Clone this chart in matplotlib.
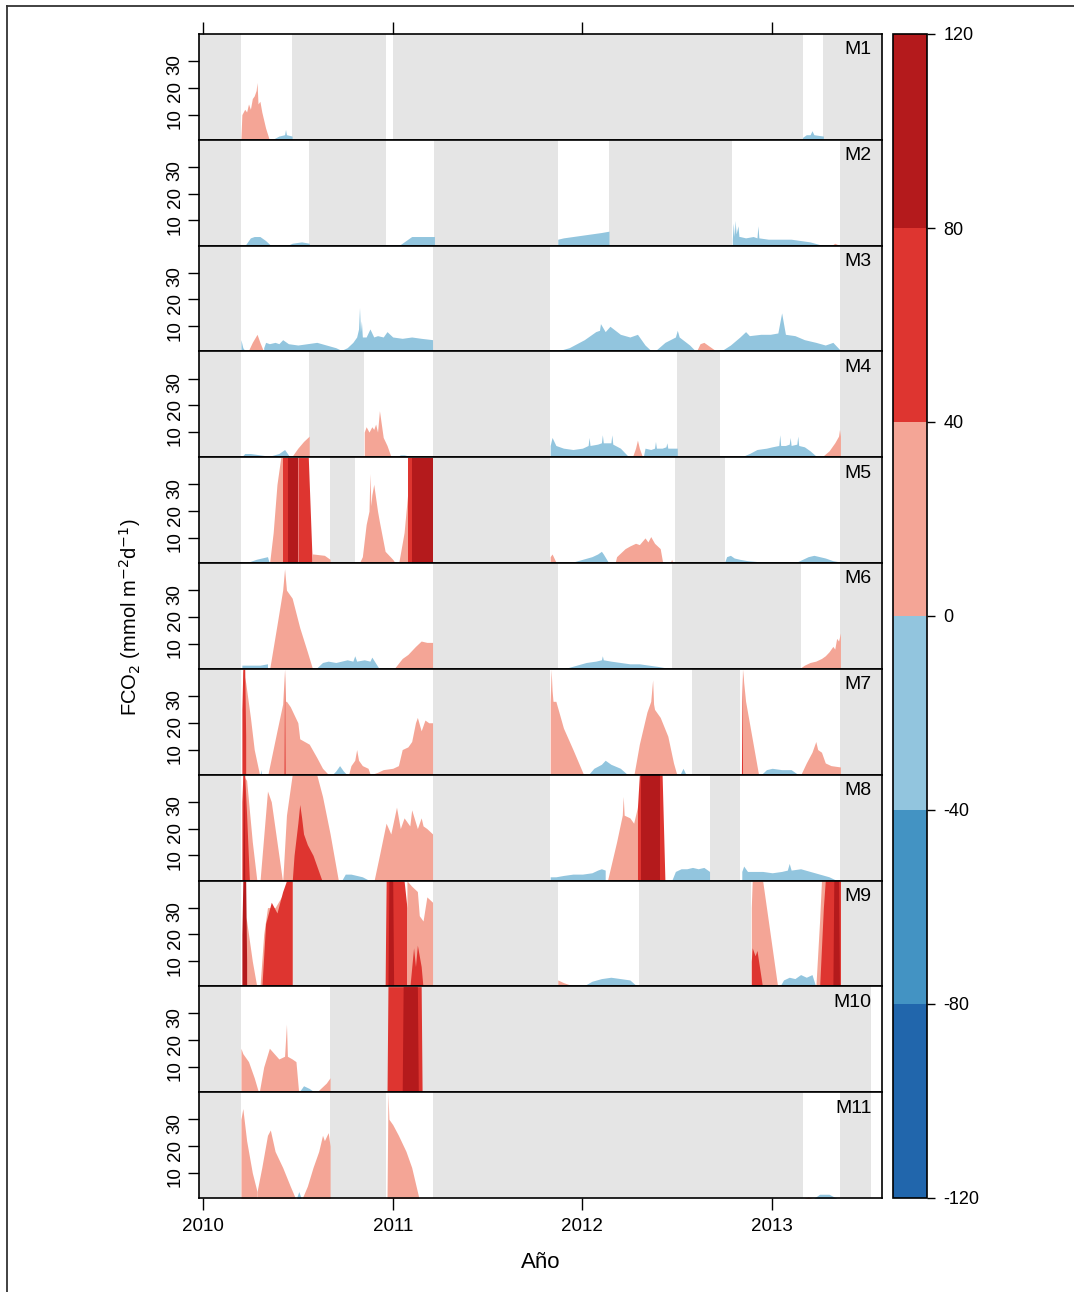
import matplotlib.pyplot as plt
from matplotlib.colors import ListedColormap, BoundaryNorm
from matplotlib.cm import ScalarMappable
from matplotlib.lines import Line2D

plt.rcParams['font.family'] = ['Liberation Sans', 'DejaVu Sans']
plt.rcParams['axes.unicode_minus'] = False

# colour classes of FCO2 (mmol m-2 d-1)
levels = [-120, -80, -40, 0, 40, 80, 120]
colours = ["#2166AC", "#4393C3", "#92C5DE", "#F4A596", "#DE3530", "#B41A1C"]
years = [2010, 2011, 2012, 2013]
yticks = [10, 20, 30]

# periods without data (grey), decimal years
M1_GAPS = [(2009.9, 2010.20), (2010.47, 2010.965), (2011.0, 2013.16), (2013.27, 2013.7)]
M2_GAPS = [(2009.9, 2010.20), (2010.56, 2010.965), (2011.22, 2011.87), (2012.14, 2012.79), (2013.36, 2013.7)]
M3_GAPS = [(2009.9, 2010.20), (2011.21, 2011.83), (2013.36, 2013.7)]
M4_GAPS = [(2009.9, 2010.20), (2010.56, 2010.85), (2011.21, 2011.83), (2012.50, 2012.725), (2013.36, 2013.7)]
M5_GAPS = [(2009.9, 2010.20), (2010.67, 2010.80), (2011.21, 2011.83), (2012.49, 2012.75), (2013.36, 2013.7)]
M6_GAPS = [(2009.9, 2010.20), (2011.21, 2011.87), (2012.47, 2013.15), (2013.36, 2013.7)]
M7_GAPS = [(2009.9, 2010.20), (2011.21, 2011.83), (2012.58, 2012.83), (2013.36, 2013.7)]
M8_GAPS = [(2009.9, 2010.20), (2011.21, 2011.83), (2012.67, 2012.83), (2013.36, 2013.7)]
M9_GAPS = [(2009.9, 2010.20), (2010.47, 2010.965), (2011.21, 2011.87), (2012.30, 2012.89), (2013.36, 2013.7)]
M10_GAPS = [(2009.9, 2010.20), (2010.67, 2013.52)]
M11_GAPS = [(2009.9, 2010.20), (2010.67, 2010.965), (2011.21, 2013.16), (2013.36, 2013.52)]

# (flux class, time, |FCO2|)
M1_AREAS = [
    (20, [2010.20, 2010.205, 2010.22, 2010.23, 2010.24, 2010.25, 2010.26, 2010.27, 2010.28, 2010.285,
          2010.29, 2010.30, 2010.31, 2010.32, 2010.33, 2010.35],
     [1, 10, 12, 11, 14, 12, 16, 17, 19, 22, 14, 15, 11, 8, 5, 0.5]),
    (-20, [2010.36, 2010.40, 2010.43, 2010.435, 2010.44, 2010.47], [0.5, 2, 2.5, 4.5, 2.5, 2]),
    (-20, [2013.16, 2013.18, 2013.20, 2013.21, 2013.22, 2013.27], [1.5, 2.5, 2.5, 4, 2.5, 2]),
]
M2_AREAS = [
    (-20, [2010.22, 2010.25, 2010.27, 2010.30, 2010.33, 2010.36], [0.5, 3.5, 4, 4, 2.5, 0.5]),
    (20, [2010.38, 2010.40, 2010.42], [0, 1, 0]),
    (-20, [2010.44, 2010.47, 2010.52, 2010.56], [0.5, 1.5, 2, 1.5]),
    (20, [2010.95, 2010.97, 2011.00], [0, 1, 0]),
    (-20, [2011.03, 2011.07, 2011.10, 2011.15, 2011.22], [0.5, 2.5, 4, 4, 4]),
    (-20, [2011.87, 2011.90, 2011.95, 2012.00, 2012.05, 2012.10, 2012.14], [3, 3.5, 4, 4.5, 5, 5.5, 6]),
    (-20, [2012.79, 2012.795, 2012.80, 2012.805, 2012.81, 2012.82, 2012.825, 2012.83, 2012.86, 2012.90,
           2012.92, 2012.925, 2012.93, 2012.98, 2013.05, 2013.10, 2013.15, 2013.20, 2013.25, 2013.30],
     [3, 9, 4, 10, 5, 8, 4, 4, 3.5, 4, 3.5, 8, 3.5, 3, 3, 3, 2.5, 2, 1, 0.3]),
    (20, [2013.30, 2013.33, 2013.36], [0, 1.5, 0.5]),
]
M3_AREAS = [
    (-20, [2010.20, 2010.21, 2010.23], [5, 2, 0]),
    (20, [2010.24, 2010.26, 2010.285, 2010.30, 2010.32], [1, 4, 7, 4, 0.5]),
    (-20, [2010.32, 2010.33, 2010.35, 2010.38, 2010.40, 2010.42, 2010.45, 2010.50, 2010.55, 2010.60,
           2010.65, 2010.70, 2010.73, 2010.76, 2010.79, 2010.81, 2010.82, 2010.825, 2010.83, 2010.835,
           2010.84, 2010.86, 2010.88, 2010.90, 2010.92, 2010.95, 2010.97, 2011.00, 2011.05, 2011.10,
           2011.15, 2011.21],
     [2, 4, 3.5, 4, 3.5, 5, 3.5, 3, 3.5, 4, 3, 2, 1, 2, 4, 6, 9, 17, 8, 12, 6, 6, 9, 6, 6.5, 6, 8, 6,
      5.5, 6, 5.5, 5]),
    (-20, [2011.83, 2011.93, 2012.01, 2012.07, 2012.09, 2012.095, 2012.12, 2012.145, 2012.20, 2012.25,
           2012.29, 2012.33, 2012.36],
     [0, 2, 5, 8, 8.5, 11, 8, 10, 7, 6, 7, 3, 1]),
    (-20, [2012.37, 2012.435, 2012.49, 2012.50, 2012.51, 2012.565, 2012.60], [0, 4, 6, 8.5, 6, 3, 0.5]),
    (20, [2012.60, 2012.62, 2012.64, 2012.66, 2012.71], [0.5, 3.5, 4, 3, 0.5]),
    (-20, [2012.725, 2012.78, 2012.83, 2012.86, 2012.88, 2012.94, 2012.99, 2013.03, 2013.05, 2013.07,
           2013.12, 2013.17, 2013.23, 2013.28, 2013.32, 2013.36],
     [0.5, 3, 6, 8, 6.5, 7, 7, 7.5, 15, 7, 6.5, 5, 4, 3, 4, 1]),
]
M4_AREAS = [
    (-20, [2010.20, 2010.22, 2010.25, 2010.30, 2010.35, 2010.40, 2010.43, 2010.44, 2010.46],
     [0.5, 2, 2, 1.5, 1, 2, 3.5, 2.5, 0.5]),
    (20, [2010.46, 2010.48, 2010.50, 2010.53, 2010.56], [0, 2, 4, 6.5, 8.5]),
    (20, [2010.85, 2010.86, 2010.875, 2010.89, 2010.90, 2010.91, 2010.92, 2010.93, 2010.95, 2010.97, 2010.99],
     [10, 12, 10, 12, 11, 13, 10, 18, 8, 5, 1]),
    (-20, [2011.02, 2011.04, 2011.06, 2011.09, 2011.11], [0.5, 1.5, 1.5, 1, 0.3]),
    (-20, [2011.83, 2011.84, 2011.86, 2011.90, 2011.95, 2012.00, 2012.03, 2012.035, 2012.04, 2012.08,
           2012.10, 2012.105, 2012.11, 2012.15, 2012.155, 2012.16, 2012.20, 2012.25],
     [5, 8, 5, 4, 3.5, 4, 5, 8, 5, 5.5, 6, 9, 6, 6, 9, 5.5, 4, 0.3]),
    (20, [2012.26, 2012.28, 2012.29, 2012.30, 2012.32], [0, 4, 7, 4, 0]),
    (-20, [2012.32, 2012.33, 2012.36, 2012.38, 2012.385, 2012.39, 2012.42, 2012.44, 2012.445, 2012.45, 2012.50],
     [0.5, 4, 3.5, 4, 6.5, 4, 4, 4.5, 6, 4, 4]),
    (20, [2012.79, 2012.80, 2012.82], [0, 1, 0]),
    (-20, [2012.83, 2012.88, 2012.92, 2012.97, 2013.00, 2013.035, 2013.04, 2013.045, 2013.07, 2013.09,
           2013.095, 2013.10, 2013.13, 2013.135, 2013.14, 2013.17, 2013.20, 2013.24],
     [0.5, 2, 3.5, 4, 4.5, 5, 9, 5, 5, 5.5, 8, 5, 5.5, 8.5, 5, 4.5, 3, 0.5]),
    (20, [2013.25, 2013.30, 2013.33, 2013.35, 2013.355, 2013.36], [0, 3, 6, 8.5, 11, 8.5]),
]
M5_AREAS = [
    (-20, [2010.21, 2010.24, 2010.28, 2010.31, 2010.34, 2010.35], [0.5, 1, 2, 2.5, 3, 0.5]),
    (20, [2010.35, 2010.37, 2010.39, 2010.41, 2010.42], [0, 12, 30, 40, 40]),
    (60, [2010.42, 2010.45], [40, 40]),
    (100, [2010.45, 2010.50], [40, 40]),
    (60, [2010.50, 2010.555, 2010.575], [40, 40, 2]),
    (20, [2010.575, 2010.58, 2010.64, 2010.67], [4, 4, 3.5, 2]),
    (20, [2010.82, 2010.84, 2010.86, 2010.875, 2010.88, 2010.885, 2010.89, 2010.90, 2010.92, 2010.93,
          2010.96, 2011.00, 2011.02],
     [0, 3, 15, 20, 34, 22, 26, 30, 20, 16, 5, 2, 0]),
    (20, [2011.03, 2011.06, 2011.09, 2011.11], [0, 12, 35, 40]),
    (60, [2011.08, 2011.10], [40, 40]),
    (100, [2011.10, 2011.21], [40, 40]),
    (20, [2011.83, 2011.84, 2011.86], [3, 4, 1]),
    (-20, [2011.90, 2011.95, 2012.00, 2012.05, 2012.08, 2012.10, 2012.11, 2012.14], [0.5, 1, 2, 3, 4, 5, 4, 0.5]),
    (20, [2012.17, 2012.18, 2012.225, 2012.25, 2012.28, 2012.30, 2012.33, 2012.345, 2012.36, 2012.38,
          2012.41, 2012.425],
     [0, 3, 6, 7, 8, 7.5, 10, 8.5, 10.5, 8, 6, 0]),
    (20, [2012.46, 2012.47, 2012.48], [0, 2, 0]),
    (-20, [2012.75, 2012.76, 2012.78, 2012.80, 2012.83, 2012.87, 2012.95, 2013.05, 2013.13],
     [1, 3, 3.5, 2.5, 2, 1.5, 1, 1, 1]),
    (-20, [2013.13, 2013.16, 2013.19, 2013.22, 2013.25, 2013.28, 2013.32, 2013.36], [1, 2, 3, 3.5, 3, 2.5, 1.5, 1]),
]
M6_AREAS = [
    (-20, [2010.205, 2010.25, 2010.30, 2010.34], [2, 2, 2, 2.5]),
    (20, [2010.35, 2010.39, 2010.42, 2010.43, 2010.44, 2010.47, 2010.51, 2010.55, 2010.58],
     [0, 17, 30, 38, 30, 27, 16, 7, 0]),
    (-20, [2010.60, 2010.63, 2010.66, 2010.70, 2010.73, 2010.76, 2010.79, 2010.80, 2010.81, 2010.85,
           2010.88, 2010.89, 2010.93],
     [1, 3, 3.5, 3, 3.5, 4, 3.5, 5.5, 3.5, 4, 3.5, 5, 0.5]),
    (20, [2011.00, 2011.05, 2011.08, 2011.12, 2011.15, 2011.18, 2011.21], [0, 4.5, 6, 9, 11, 10.5, 10.5]),
    (-20, [2011.87, 2011.92, 2011.97, 2012.02, 2012.07, 2012.10, 2012.105, 2012.11, 2012.15, 2012.20,
           2012.25, 2012.30, 2012.35, 2012.40, 2012.44, 2012.47],
     [0.3, 1, 2, 3, 3.5, 4, 5.5, 4, 3.5, 3, 2.5, 2.5, 2, 1.5, 1, 0.5]),
    (20, [2013.15, 2013.17, 2013.20, 2013.23, 2013.26, 2013.28, 2013.30, 2013.32, 2013.33, 2013.34,
          2013.35, 2013.36],
     [1, 2, 3, 3.5, 4.5, 5.5, 7, 9, 8, 12, 11, 14]),
]
M7_AREAS = [
    (20, [2010.21, 2010.225, 2010.25, 2010.27, 2010.30], [40, 35, 22, 10, 0]),
    (60, [2010.205, 2010.21, 2010.22, 2010.225], [25, 40, 40, 15]),
    (-20, [2010.30, 2010.305, 2010.31], [0, 2.5, 0]),
    (20, [2010.34, 2010.39, 2010.42, 2010.43, 2010.435, 2010.44, 2010.46, 2010.50, 2010.51, 2010.56,
          2010.60, 2010.63, 2010.67],
     [0, 17, 27, 40, 28, 28, 26, 20, 14, 12, 7, 3, 0]),
    (60, [2010.427, 2010.43, 2010.433], [0, 40, 0]),
    (-20, [2010.68, 2010.70, 2010.72, 2010.74, 2010.76], [0.5, 2, 4, 2, 0.5]),
    (20, [2010.765, 2010.78, 2010.80, 2010.81, 2010.82, 2010.84, 2010.87, 2010.88], [0, 4, 6, 10, 6, 4, 3, 1]),
    (20, [2010.88, 2010.92, 2010.95, 2011.00, 2011.03, 2011.05, 2011.08, 2011.10, 2011.12, 2011.13,
          2011.15, 2011.17, 2011.19, 2011.21],
     [0.5, 1.5, 2.5, 3, 4, 10, 11, 13, 20, 22, 17, 21, 20, 20]),
    (20, [2011.83, 2011.835, 2011.84, 2011.845, 2011.86, 2011.90, 2011.95, 2012.01], [28, 40, 32, 28, 28, 18, 10, 0]),
    (-20, [2012.03, 2012.06, 2012.10, 2012.12, 2012.15, 2012.20, 2012.24], [0.5, 3, 4.5, 6, 4.5, 3, 0.5]),
    (20, [2012.27, 2012.30, 2012.34, 2012.36, 2012.37, 2012.375, 2012.38, 2012.41, 2012.45, 2012.48, 2012.50],
     [0, 12, 24, 28, 36, 27, 25, 22, 15, 5, 0]),
    (-20, [2012.51, 2012.53, 2012.55], [0, 3, 0]),
    (20, [2012.84, 2012.845, 2012.85, 2012.86, 2012.90, 2012.93], [28, 40, 35, 28, 12, 0]),
    (60, [2012.838, 2012.841, 2012.844], [0, 40, 0]),
    (-20, [2012.94, 2012.97, 2013.00, 2013.05, 2013.10, 2013.13], [0.5, 2.5, 3, 2.5, 2.5, 1]),
    (20, [2013.15, 2013.18, 2013.21, 2013.23, 2013.24, 2013.26, 2013.28, 2013.31, 2013.36],
     [0.5, 5, 9, 13, 10, 9, 5, 4, 3.5]),
]
M8_AREAS = [
    (20, [2010.21, 2010.23, 2010.26, 2010.285], [40, 38, 15, 0]),
    (60, [2010.205, 2010.21, 2010.22, 2010.23, 2010.245], [30, 40, 40, 25, 0]),
    (100, [2010.21, 2010.215, 2010.22], [0, 40, 0]),
    (20, [2010.30, 2010.34, 2010.36, 2010.42], [0, 34, 30, 0]),
    (20, [2010.42, 2010.44, 2010.47, 2010.53, 2010.60, 2010.63, 2010.67, 2010.715], [0, 25, 40, 40, 40, 32, 18, 0]),
    (60, [2010.47, 2010.48, 2010.50, 2010.51, 2010.52, 2010.53, 2010.55, 2010.58, 2010.63],
     [0, 10, 22, 29, 24, 18, 14, 10, 0]),
    (-20, [2010.73, 2010.75, 2010.78, 2010.81, 2010.84, 2010.88], [0.5, 3, 3, 2.5, 2, 0.5]),
    (20, [2010.90, 2010.93, 2010.965, 2010.99, 2011.02, 2011.04, 2011.06, 2011.09, 2011.10, 2011.13,
          2011.15, 2011.16, 2011.18, 2011.21],
     [0, 10, 22, 18, 28, 20, 24, 21, 27, 20, 24, 21, 20, 18]),
    (-20, [2011.83, 2011.86, 2011.90, 2011.95, 2012.00, 2012.05, 2012.08, 2012.10, 2012.12],
     [2, 2, 2.5, 3, 3, 3.5, 4.5, 5, 4.5]),
    (20, [2012.13, 2012.18, 2012.21, 2012.215, 2012.22, 2012.25, 2012.27, 2012.29], [0, 15, 25, 32, 25, 24, 22, 28]),
    (60, [2012.29, 2012.30, 2012.42, 2012.435], [28, 40, 40, 0]),
    (100, [2012.31, 2012.32, 2012.40, 2012.41], [40, 40, 40, 40]),
    (-20, [2012.47, 2012.49, 2012.52, 2012.55, 2012.58, 2012.61, 2012.64, 2012.67], [0.5, 4, 5, 5, 5.5, 5, 5.5, 4]),
    (-20, [2012.84, 2012.85, 2012.87, 2012.90, 2012.95, 2013.00, 2013.05, 2013.08, 2013.09, 2013.10,
           2013.15, 2013.20, 2013.25, 2013.30, 2013.35],
     [4, 6, 4, 4, 4, 3.5, 4, 4.5, 7, 4.5, 5, 4, 3, 2, 0.3]),
]
M9_AREAS = [
    (20, [2010.21, 2010.23, 2010.26, 2010.285], [30, 25, 10, 0]),
    (100, [2010.205, 2010.21, 2010.225, 2010.23], [20, 40, 40, 10]),
    (20, [2010.30, 2010.32, 2010.34, 2010.38, 2010.43, 2010.47], [0, 20, 30, 30, 36, 40]),
    (60, [2010.31, 2010.33, 2010.36, 2010.39, 2010.42, 2010.44, 2010.47], [0, 24, 32, 28, 36, 40, 40]),
    (60, [2010.96, 2010.965, 2011.06, 2011.075], [0, 40, 40, 30]),
    (100, [2010.975, 2010.98, 2011.00, 2011.005], [0, 40, 40, 0]),
    (20, [2011.075, 2011.10, 2011.13, 2011.14, 2011.16, 2011.18, 2011.21], [40, 38, 36, 27, 25, 34, 32]),
    (60, [2011.09, 2011.11, 2011.12, 2011.13, 2011.15, 2011.16], [0, 15, 8, 16, 8, 0]),
    (20, [2011.87, 2011.90, 2011.94, 2011.97], [3, 2, 1, 0]),
    (-20, [2012.00, 2012.05, 2012.10, 2012.15, 2012.20, 2012.25, 2012.29], [0.5, 2.5, 3.5, 4, 3.5, 3, 0.5]),
    (20, [2012.89, 2012.895, 2012.95, 2013.03], [30, 40, 40, 0]),
    (60, [2012.89, 2012.895, 2012.91, 2012.92, 2012.95], [10, 15, 12, 14, 0]),
    (-20, [2013.04, 2013.06, 2013.09, 2013.12, 2013.15, 2013.18, 2013.21, 2013.23], [0.5, 3, 4, 3.5, 5, 4, 5, 0.5]),
    (20, [2013.23, 2013.25, 2013.26, 2013.33, 2013.36], [0, 25, 40, 40, 40]),
    (60, [2013.25, 2013.27, 2013.28, 2013.36], [0, 30, 40, 40]),
    (100, [2013.32, 2013.325, 2013.35, 2013.355], [0, 40, 40, 0]),
]
M10_AREAS = [
    (20, [2010.20, 2010.21, 2010.24, 2010.27, 2010.295], [17, 15, 12, 6, 0]),
    (20, [2010.295, 2010.32, 2010.35, 2010.40, 2010.43, 2010.44, 2010.445, 2010.47, 2010.49, 2010.505],
     [0, 10, 17, 13, 14, 26, 14, 13, 12, 0]),
    (-20, [2010.505, 2010.53, 2010.56, 2010.59], [0.5, 3, 2, 0.5]),
    (20, [2010.59, 2010.62, 2010.65, 2010.67], [0, 2, 4, 6]),
    (60, [2010.97, 2010.975, 2011.15, 2011.155], [0, 40, 40, 0]),
    (100, [2011.05, 2011.055, 2011.13, 2011.135], [0, 40, 40, 0]),
]
M11_AREAS = [
    (20, [2010.20, 2010.21, 2010.23, 2010.26, 2010.285], [30, 34, 22, 10, 3]),
    (20, [2010.285, 2010.31, 2010.34, 2010.355, 2010.38, 2010.42, 2010.46, 2010.49], [3, 12, 24, 26, 18, 12, 5, 0]),
    (-20, [2010.49, 2010.505, 2010.52], [0, 3, 0]),
    (20, [2010.52, 2010.55, 2010.58, 2010.61, 2010.63, 2010.64, 2010.66, 2010.67], [0, 5, 12, 18, 24, 22, 25, 20]),
    (20, [2010.97, 2010.975, 2010.98, 2011.00, 2011.03, 2011.07, 2011.10, 2011.14], [0, 40, 30, 28, 24, 18, 12, 0]),
    (20, [2013.17, 2013.19, 2013.21], [0.5, 1, 0.5]),
    (-20, [2013.22, 2013.25, 2013.30, 2013.34], [0.5, 2, 2, 0.5]),
]

panels = [
    ("M1", M1_GAPS, M1_AREAS), ("M2", M2_GAPS, M2_AREAS), ("M3", M3_GAPS, M3_AREAS),
    ("M4", M4_GAPS, M4_AREAS), ("M5", M5_GAPS, M5_AREAS), ("M6", M6_GAPS, M6_AREAS),
    ("M7", M7_GAPS, M7_AREAS), ("M8", M8_GAPS, M8_AREAS), ("M9", M9_GAPS, M9_AREAS),
    ("M10", M10_GAPS, M10_AREAS), ("M11", M11_GAPS, M11_AREAS),
]

cmap = ListedColormap(colours)
norm = BoundaryNorm(levels, cmap.N)

W, H = 1074, 1292
fig = plt.figure(figsize=(W / 100, H / 100), dpi=100)
left, right = 199 / W, 882 / W
top, bottom = 1 - 34 / H, 1 - 1198 / H
ph = (top - bottom) / len(panels)

for i, (name, gaps, areas) in enumerate(panels):
    ax = fig.add_axes([left, top - (i + 1) * ph, right - left, ph])
    for a, b in gaps:
        ax.axvspan(a, b, color="#E5E5E5", lw=0)
    for flux, t, v in areas:
        ax.fill_between(t, 0, v, color=cmap(norm(flux)), lw=0)
    ax.set_xlim(2009.979, 2013.579)
    ax.set_ylim(0.6, 40.1)
    ax.set_yticks(yticks)
    ax.tick_params(axis="y", direction="out", length=8, width=1, labelsize=13.5,
                   labelrotation=90, pad=3)
    for s in ax.spines.values():
        s.set_linewidth(1.2)
    ax.text(0.985, 0.85, name, transform=ax.transAxes, ha="right", va="center", fontsize=14)
    if i == 0:
        ax.set_xticks(years)
        ax.xaxis.set_ticks_position("top")
        ax.tick_params(axis="x", direction="out", length=8.5, width=1, labeltop=False)
    elif i == len(panels) - 1:
        ax.set_xticks(years)
        ax.tick_params(axis="x", direction="out", length=8.5, width=1, labelsize=13.5, pad=6)
    else:
        ax.set_xticks([])

cax = fig.add_axes([893 / W, bottom, 34 / W, top - bottom])
cb = fig.colorbar(ScalarMappable(norm=norm, cmap=cmap), cax=cax, ticks=levels)
cb.ax.tick_params(length=6, width=1, labelsize=13, pad=6)
cb.outline.set_linewidth(1.2)

fig.text(130 / W, 1 - 617 / H, "FCO$_2$ (mmol m$^{\\mathsf{-2}}$d$^{\\mathsf{-1}}$)", rotation=90,
         ha="center", va="center", fontsize=14.5)
fig.text(541 / W, 1 - 1263 / H, "Año", ha="center", va="center", fontsize=16)

# outer frame (left and top edges)
fig.add_artist(Line2D([7 / W, 7 / W], [0, 1 - 6 / H], transform=fig.transFigure, color="#333333", lw=1.3))
fig.add_artist(Line2D([7 / W, 1], [1 - 6 / H, 1 - 6 / H], transform=fig.transFigure, color="#333333", lw=1.3))

fig.savefig("out.png", dpi=100)
